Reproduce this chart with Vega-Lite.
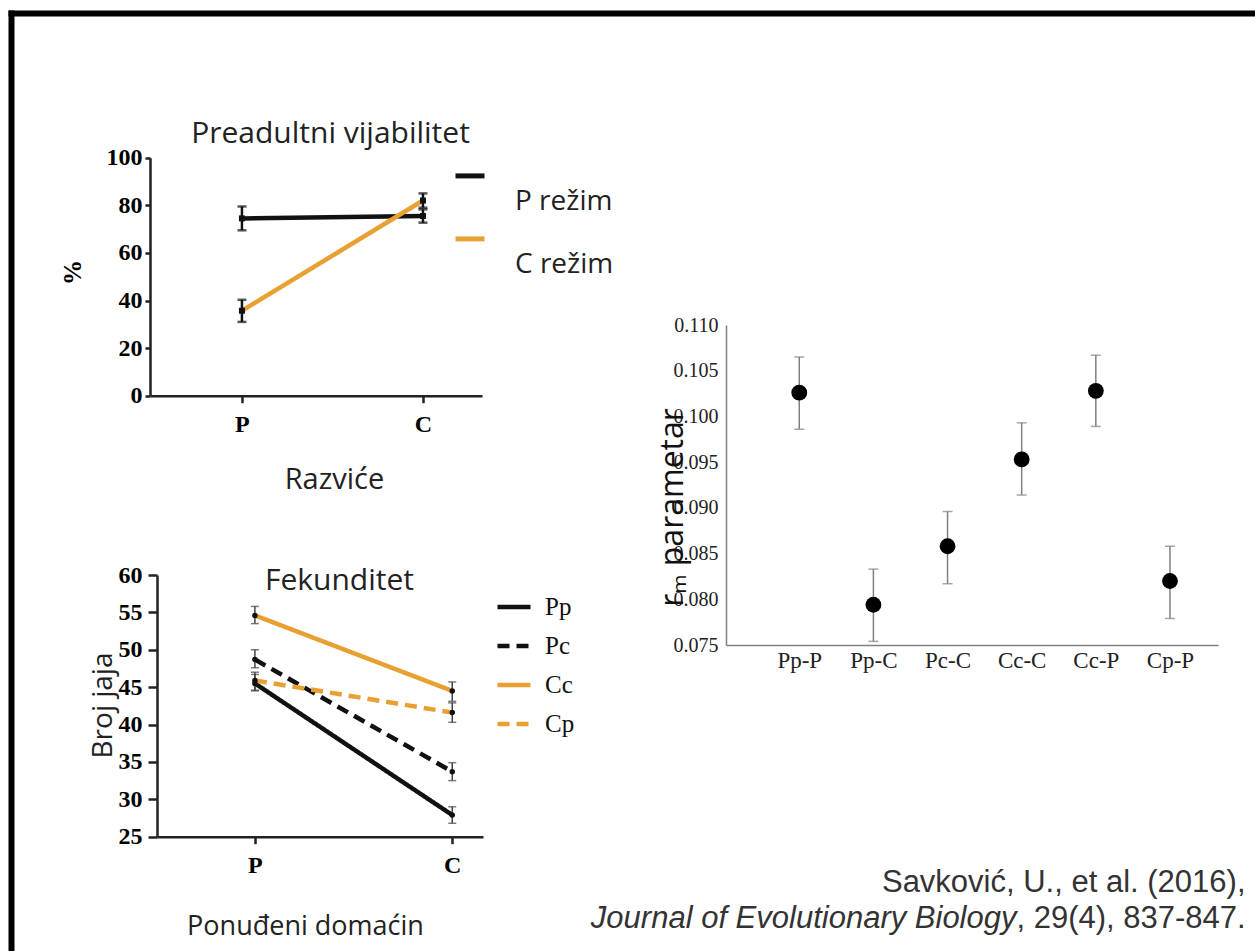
{
  "$schema": "https://vega.github.io/schema/vega-lite/v6.json",
  "width": 1243,
  "height": 938,
  "autosize": "none",
  "padding": {"left": 11, "top": 13, "right": 1, "bottom": 0},
  "background": "white",
  "config": {
    "view": {"stroke": null},
    "axis": {"grid": false, "titleLimit": 2000, "labelLimit": 400},
    "legend": {"padding": 0}
  },
  "datasets": {
    "okvir": [{"v": 0}],
    "vijabilitet": [
      {"rezim": "P režim", "razvice": "P", "pct": 74.5, "lo": 69.5, "hi": 79.5},
      {"rezim": "P režim", "razvice": "C", "pct": 75.5, "lo": 72.7, "hi": 78.3},
      {"rezim": "C režim", "razvice": "P", "pct": 35.7, "lo": 31.0, "hi": 40.3},
      {"rezim": "C režim", "razvice": "C", "pct": 82.0, "lo": 79.0, "hi": 85.0}
    ],
    "fekunditet": [
      {"linija": "Pp", "domacin": "P", "jaja": 45.5, "lo": 44.5, "hi": 46.7},
      {"linija": "Pp", "domacin": "C", "jaja": 27.9, "lo": 26.8, "hi": 29.0},
      {"linija": "Pc", "domacin": "P", "jaja": 48.7, "lo": 47.6, "hi": 50.0},
      {"linija": "Pc", "domacin": "C", "jaja": 33.7, "lo": 32.5, "hi": 34.9},
      {"linija": "Cc", "domacin": "P", "jaja": 54.6, "lo": 53.5, "hi": 55.8},
      {"linija": "Cc", "domacin": "C", "jaja": 44.5, "lo": 43.1, "hi": 45.7},
      {"linija": "Cp", "domacin": "P", "jaja": 45.9, "lo": 44.6, "hi": 47.0},
      {"linija": "Cp", "domacin": "C", "jaja": 41.6, "lo": 40.3, "hi": 42.9}
    ],
    "rm": [
      {"grupa": "Pp-P", "rm": 0.1026, "lo": 0.0986, "hi": 0.1065},
      {"grupa": "Pp-C", "rm": 0.0794, "lo": 0.0754, "hi": 0.0833},
      {"grupa": "Pc-C", "rm": 0.0858, "lo": 0.0817, "hi": 0.0896},
      {"grupa": "Cc-C", "rm": 0.0953, "lo": 0.0914, "hi": 0.0993},
      {"grupa": "Cc-P", "rm": 0.1028, "lo": 0.0989, "hi": 0.1067},
      {"grupa": "Cp-P", "rm": 0.0820, "lo": 0.0779, "hi": 0.0858}
    ]
  },
  "layer": [
    {
      "data": {"name": "okvir"},
      "mark": {"type": "point", "opacity": 0},
      "encoding": {
        "x": {"field": "v", "type": "quantitative",
          "scale": {"domain": [0, 1], "range": [0, 1243], "nice": false, "zero": false},
          "axis": {"orient": "top", "offset": 0, "domain": true, "domainColor": "black", "domainWidth": 6, "domainCap": "square",
            "ticks": false, "labels": false,
            "title": "Savković, U., et al. (2016),", "titleFont": "Liberation Sans", "titleFontSize": 31, "titleFontWeight": "normal",
            "titleColor": "#333333", "titleAlign": "right", "titleBaseline": "middle", "titleAngle": 0, "titleX": 1234, "titleY": 869}},
        "y": {"field": "v", "type": "quantitative",
          "scale": {"domain": [0, 1], "range": [0, 938], "nice": false, "zero": false},
          "axis": {"orient": "left", "offset": 0, "domain": true, "domainColor": "black", "domainWidth": 6, "domainCap": "square",
            "ticks": false, "labels": false,
            "title": "Journal of Evolutionary Biology", "titleFont": "Liberation Sans", "titleFontSize": 31, "titleFontWeight": "normal", "titleFontStyle": "italic",
            "titleColor": "#333333", "titleAlign": "right", "titleBaseline": "middle", "titleAngle": 0, "titleX": 1005, "titleY": 905}}
      }
    },
    {
      "data": {"name": "vijabilitet"},
      "mark": {"type": "line", "strokeWidth": 4.5},
      "encoding": {
        "x": {"field": "razvice", "type": "nominal",
          "scale": {"type": "point", "domain": ["P", "C"], "range": [139, 471], "padding": 0.417, "align": 0.609},
          "axis": {"orient": "bottom", "offset": -555.3, "domainColor": "#222222", "domainWidth": 2.5, "tickColor": "#222222", "tickWidth": 2.5, "tickSize": 7,
            "labelFont": "Liberation Serif", "labelFontSize": 24, "labelFontWeight": "bold", "labelColor": "black", "labelPadding": 10, "labelAngle": 0,
            "title": "Razviće", "titleFont": "Open Sans", "titleFontSize": 29, "titleFontWeight": "normal", "titleColor": "#222222",
            "titleAlign": "center", "titleBaseline": "middle", "titleAngle": 0, "titleX": 323, "titleY": 84}},
        "y": {"field": "pct", "type": "quantitative",
          "scale": {"domain": [0, 100], "range": [382.7, 144.7], "nice": false, "zero": false},
          "axis": {"orient": "left", "offset": -139, "values": [0, 20, 40, 60, 80, 100], "domainColor": "#222222", "domainWidth": 2.5, "tickColor": "#222222", "tickWidth": 2.5, "tickSize": 5,
            "labelFont": "Liberation Serif", "labelFontSize": 24, "labelFontWeight": "bold", "labelColor": "black", "labelPadding": 3,
            "title": "%", "titleFont": "Liberation Serif", "titleFontSize": 25, "titleFontWeight": "bold", "titleColor": "black",
            "titleAlign": "center", "titleBaseline": "middle", "titleAngle": -90, "titleX": -78, "titleY": 259}},
        "color": {"field": "rezim", "type": "nominal",
          "scale": {"domain": ["P režim", "C režim"], "range": ["#111111", "#E8A033"]},
          "legend": {"orient": "none", "legendX": 442, "legendY": 172, "title": null, "symbolType": "M-1,-1.8H1", "symbolSize": 841, "symbolStrokeWidth": 5,
            "labelFont": "Open Sans", "labelFontSize": 28, "labelColor": "#222222", "labelOffset": 28, "rowPadding": 12}}
      }
    },
    {
      "data": {"name": "vijabilitet"},
      "mark": {"type": "errorbar", "color": "#111111", "thickness": 2.5, "ticks": {"size": 9, "thickness": 2.5, "color": "#111111"}},
      "encoding": {
        "x": {"field": "razvice", "type": "nominal",
          "scale": {"type": "point", "domain": ["P", "C"], "range": [139, 471], "padding": 0.417, "align": 0.609},
          "axis": {"orient": "top", "offset": 0, "domain": false, "ticks": false, "labels": false,
            "title": "Preadultni vijabilitet", "titleFont": "Open Sans", "titleFontSize": 30, "titleFontWeight": "normal", "titleColor": "#222222",
            "titleAlign": "center", "titleBaseline": "middle", "titleAngle": 0, "titleX": 319, "titleY": 120}},
        "y": {"field": "lo", "type": "quantitative",
          "scale": {"domain": [0, 100], "range": [382.7, 144.7], "nice": false, "zero": false}, "axis": null},
        "y2": {"field": "hi"}
      }
    },
    {
      "data": {"name": "vijabilitet"},
      "mark": {"type": "point", "shape": "square", "filled": true, "color": "#111111", "size": 36, "opacity": 1},
      "encoding": {
        "x": {"field": "razvice", "type": "nominal",
          "scale": {"type": "point", "domain": ["P", "C"], "range": [139, 471], "padding": 0.417, "align": 0.609}, "axis": null},
        "y": {"field": "pct", "type": "quantitative",
          "scale": {"domain": [0, 100], "range": [382.7, 144.7], "nice": false, "zero": false}, "axis": null}
      }
    },
    {
      "data": {"name": "fekunditet"},
      "mark": {"type": "line", "strokeWidth": 4.5},
      "encoding": {
        "x": {"field": "domacin", "type": "nominal",
          "scale": {"type": "point", "domain": ["P", "C"], "range": [146, 472], "padding": 0.326, "align": 0.761},
          "axis": {"orient": "bottom", "offset": -114.3, "domainColor": "#222222", "domainWidth": 2.5, "tickColor": "#222222", "tickWidth": 2.5, "tickSize": 7,
            "labelFont": "Liberation Serif", "labelFontSize": 24, "labelFontWeight": "bold", "labelColor": "black", "labelPadding": 10, "labelAngle": 0,
            "title": "Ponuđeni domaćin", "titleFont": "Open Sans", "titleFontSize": 27, "titleFontWeight": "normal", "titleColor": "#222222",
            "titleAlign": "center", "titleBaseline": "middle", "titleAngle": 0, "titleX": 294, "titleY": 90}},
        "y": {"field": "jaja", "type": "quantitative",
          "scale": {"domain": [25, 60], "range": [823.7, 562], "nice": false, "zero": false},
          "axis": {"orient": "left", "offset": -146, "values": [25, 30, 35, 40, 45, 50, 55, 60], "domainColor": "#222222", "domainWidth": 2.5, "tickColor": "#222222", "tickWidth": 2.5, "tickSize": 9,
            "labelFont": "Liberation Serif", "labelFontSize": 24, "labelFontWeight": "bold", "labelColor": "black", "labelPadding": 6,
            "title": "Broj jaja", "titleFont": "Open Sans", "titleFontSize": 28, "titleFontWeight": "normal", "titleColor": "#222222",
            "titleAlign": "center", "titleBaseline": "middle", "titleAngle": -90, "titleX": -54, "titleY": 692}},
        "color": {"field": "linija", "type": "nominal",
          "scale": {"domain": ["Pp", "Pc", "Cc", "Cp"], "range": ["#111111", "#111111", "#E8A033", "#E8A033"]},
          "legend": {"orient": "none", "legendX": 484, "legendY": 575, "title": null, "symbolType": "stroke", "symbolSize": 1089, "symbolStrokeWidth": 4.5,
            "labelFont": "Liberation Serif", "labelFontSize": 25, "labelColor": "#111111", "labelOffset": 12, "rowPadding": 7}},
        "strokeDash": {"field": "linija", "type": "nominal",
          "scale": {"domain": ["Pp", "Pc", "Cc", "Cp"], "range": [[1, 0], [12, 7], [1, 0], [12, 7]]},
          "legend": {"orient": "none", "legendX": 484, "legendY": 575, "title": null, "symbolType": "stroke", "symbolSize": 1089, "symbolStrokeWidth": 4.5,
            "labelFont": "Liberation Serif", "labelFontSize": 25, "labelColor": "#111111", "labelOffset": 12, "rowPadding": 7}}
      }
    },
    {
      "data": {"name": "fekunditet"},
      "mark": {"type": "errorbar", "color": "#444444", "thickness": 1.5, "ticks": {"size": 8, "thickness": 1.5, "color": "#444444"}},
      "encoding": {
        "x": {"field": "domacin", "type": "nominal",
          "scale": {"type": "point", "domain": ["P", "C"], "range": [146, 472], "padding": 0.326, "align": 0.761},
          "axis": {"orient": "top", "offset": 0, "domain": false, "ticks": false, "labels": false,
            "title": "Fekunditet", "titleFont": "Open Sans", "titleFontSize": 30, "titleFontWeight": "normal", "titleColor": "#222222",
            "titleAlign": "center", "titleBaseline": "middle", "titleAngle": 0, "titleX": 328, "titleY": 567}},
        "y": {"field": "lo", "type": "quantitative",
          "scale": {"domain": [25, 60], "range": [823.7, 562], "nice": false, "zero": false}, "axis": null},
        "y2": {"field": "hi"}
      }
    },
    {
      "data": {"name": "fekunditet"},
      "mark": {"type": "point", "filled": true, "color": "#111111", "size": 30, "opacity": 1},
      "encoding": {
        "x": {"field": "domacin", "type": "nominal",
          "scale": {"type": "point", "domain": ["P", "C"], "range": [146, 472], "padding": 0.326, "align": 0.761}, "axis": null},
        "y": {"field": "jaja", "type": "quantitative",
          "scale": {"domain": [25, 60], "range": [823.7, 562], "nice": false, "zero": false}, "axis": null}
      }
    },
    {
      "data": {"name": "rm"},
      "mark": {"type": "errorbar", "color": "#808080", "thickness": 1.5, "ticks": {"size": 10, "thickness": 1.5, "color": "#808080"}},
      "encoding": {
        "x": {"field": "grupa", "type": "nominal",
          "scale": {"type": "point", "domain": ["Pp-P", "Pp-C", "Pc-C", "Cc-C", "Cc-P", "Cp-P"], "range": [715, 1207], "padding": 0.818, "align": 0.604},
          "axis": {"orient": "top", "offset": 0, "domain": false, "ticks": false, "labels": false,
            "title": ", 29(4), 837-847.", "titleFont": "Liberation Sans", "titleFontSize": 31, "titleFontWeight": "normal", "titleColor": "#333333",
            "titleAlign": "left", "titleBaseline": "middle", "titleAngle": 0, "titleX": 1005, "titleY": 905}},
        "y": {"field": "lo", "type": "quantitative",
          "scale": {"domain": [0.075, 0.11], "range": [632, 312], "nice": false, "zero": false}, "axis": null},
        "y2": {"field": "hi"}
      }
    },
    {
      "data": {"name": "rm"},
      "mark": {"type": "point", "filled": true, "color": "black", "size": 250, "opacity": 1},
      "encoding": {
        "x": {"field": "grupa", "type": "nominal",
          "scale": {"type": "point", "domain": ["Pp-P", "Pp-C", "Pc-C", "Cc-C", "Cc-P", "Cp-P"], "range": [715, 1207], "padding": 0.818, "align": 0.604},
          "axis": {"orient": "bottom", "offset": -306, "domainColor": "#808080", "domainWidth": 1.5, "ticks": false, "tickSize": 0,
            "labelFont": "Liberation Serif", "labelFontSize": 23, "labelColor": "#222222", "labelPadding": 4, "labelAngle": 0, "title": null}},
        "y": {"field": "rm", "type": "quantitative",
          "scale": {"domain": [0.075, 0.11], "range": [632, 312], "nice": false, "zero": false},
          "axis": {"orient": "left", "offset": -715, "values": [0.075, 0.08, 0.085, 0.09, 0.095, 0.1, 0.105, 0.11], "format": ".3f",
            "domainColor": "#808080", "domainWidth": 1.5, "ticks": false, "tickSize": 0,
            "labelFont": "Liberation Serif", "labelFontSize": 20, "labelColor": "#222222", "labelPadding": 8,
            "title": "rₘ parametar", "titleFont": "Open Sans", "titleFontSize": 32, "titleFontWeight": "normal", "titleColor": "#111111",
            "titleAlign": "center", "titleBaseline": "middle", "titleAngle": -90, "titleX": -54, "titleY": 494}}
      }
    }
  ],
  "resolve": {
    "scale": {"x": "independent", "y": "independent", "color": "independent", "strokeDash": "independent"},
    "axis": {"x": "independent", "y": "independent"},
    "legend": {"color": "independent", "strokeDash": "independent"}
  }
}
